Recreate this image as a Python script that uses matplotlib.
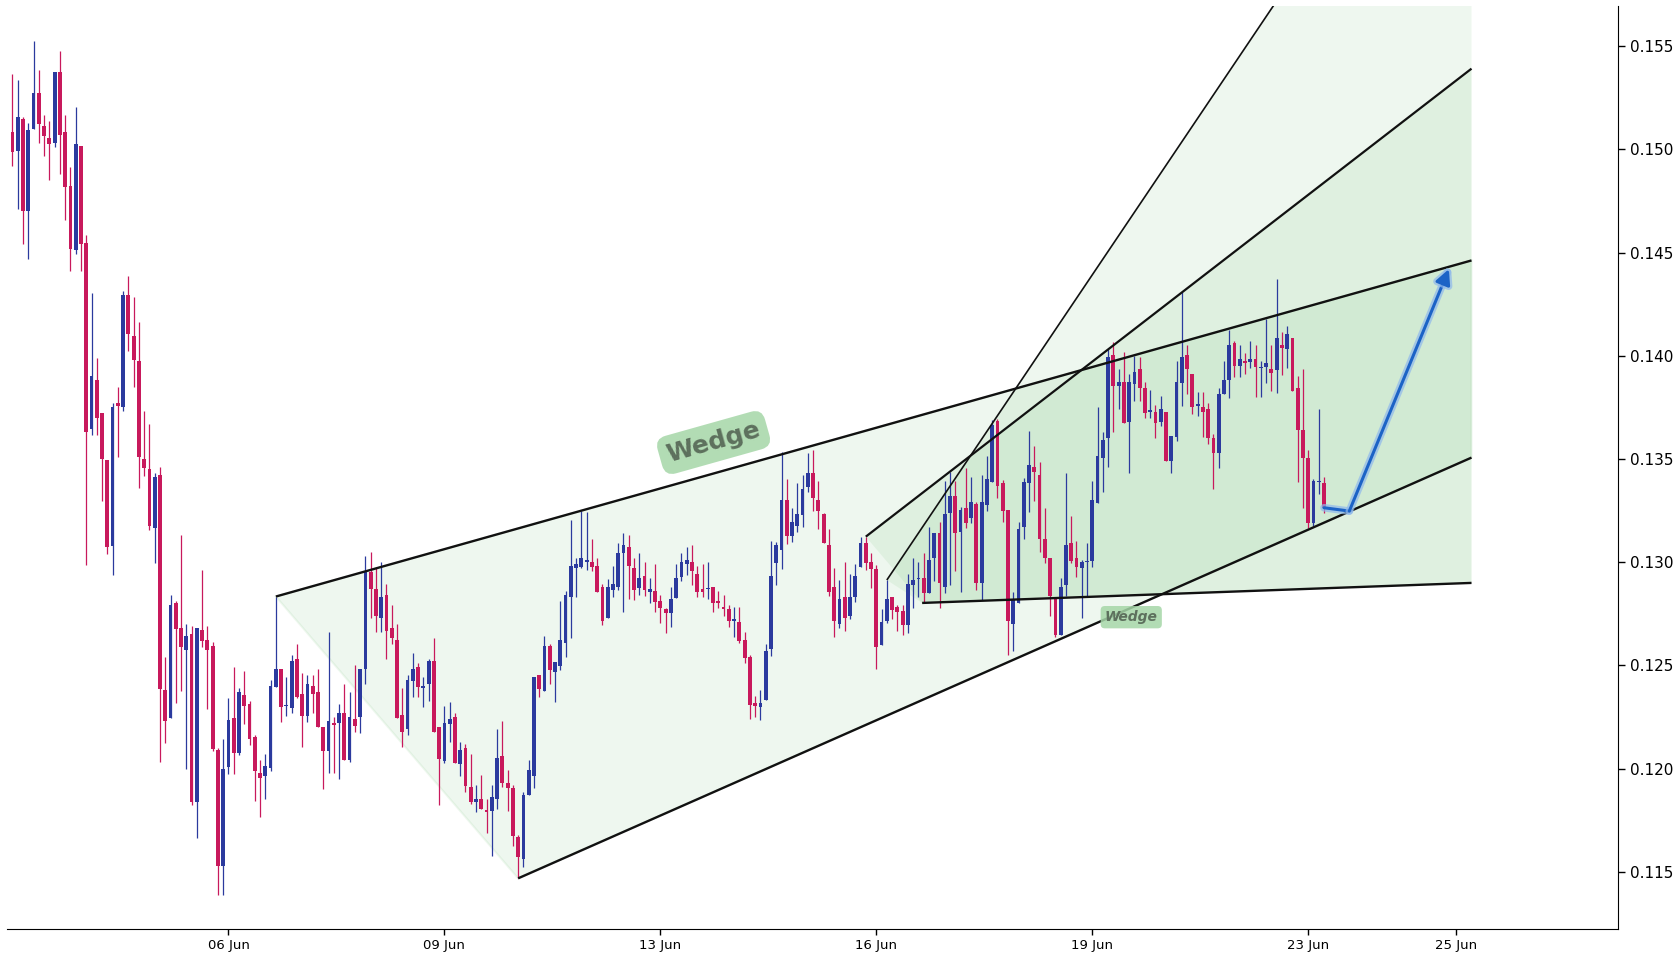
import numpy as np
import matplotlib
matplotlib.use("Agg")
import matplotlib.pyplot as plt
import matplotlib.patheffects as pe

# ---------------- data ----------------
opens = [0.15082, 0.14993, 0.15147, 0.14703, 0.15101, 0.15275, 0.15111, 0.15056, 0.15033, 0.15374,
         0.15082, 0.14822, 0.14511, 0.15016, 0.14545, 0.13644, 0.13883, 0.13724, 0.13495, 0.13078,
         0.13770, 0.13753, 0.14295, 0.14095, 0.13974, 0.13502, 0.13450, 0.13168, 0.13423, 0.12381,
         0.12246, 0.12802, 0.12681, 0.12576, 0.12652, 0.11841, 0.12671, 0.12622, 0.12594, 0.12090,
         0.11527, 0.12007, 0.12248, 0.12076, 0.12359, 0.12314, 0.12153, 0.11981, 0.11967, 0.12002,
         0.12398, 0.12482, 0.12303, 0.12293, 0.12530, 0.12362, 0.12257, 0.12401, 0.12370, 0.12201,
         0.12088, 0.12222, 0.12220, 0.12269, 0.12043, 0.12239, 0.12249, 0.12482, 0.12955, 0.12869,
         0.12729, 0.12840, 0.12680, 0.12624, 0.12261, 0.12191, 0.12427, 0.12493, 0.12390, 0.12409,
         0.12522, 0.12202, 0.12039, 0.12219, 0.12251, 0.12022, 0.12101, 0.11913, 0.11841, 0.11854,
         0.11800, 0.11797, 0.11852, 0.12060, 0.11929, 0.11909, 0.11670, 0.11561, 0.11872, 0.11966,
         0.12454, 0.12378, 0.12594, 0.12470, 0.12499, 0.12610, 0.12830, 0.12970, 0.12978, 0.12999,
         0.12999, 0.12982, 0.12878, 0.12728, 0.12868, 0.12878, 0.13043, 0.13075, 0.12970, 0.12877,
         0.12933, 0.12857, 0.12861, 0.12812, 0.12774, 0.12753, 0.12828, 0.12930, 0.12990, 0.13000,
         0.12941, 0.12869, 0.12869, 0.12878, 0.12811, 0.12785, 0.12772, 0.12717, 0.12712, 0.12623,
         0.12543, 0.12320, 0.12301, 0.12333, 0.12578, 0.12995, 0.13059, 0.13302, 0.13129, 0.13176,
         0.13229, 0.13363, 0.13434, 0.13302, 0.13234, 0.13084, 0.12882, 0.12699, 0.12830, 0.12741,
         0.12830, 0.12979, 0.13092, 0.13003, 0.12966, 0.12599, 0.12717, 0.12830, 0.12781, 0.12764,
         0.12696, 0.12890, 0.12919, 0.12922, 0.12849, 0.13019, 0.13140, 0.12878, 0.13240, 0.13321,
         0.13148, 0.13264, 0.13212, 0.13282, 0.12901, 0.13277, 0.13390, 0.13684, 0.13382, 0.13253,
         0.12701, 0.12801, 0.13169, 0.13382, 0.13460, 0.13423, 0.13111, 0.13019, 0.12825, 0.12648,
         0.12890, 0.13092, 0.13019, 0.12971, 0.13000, 0.13008, 0.13289, 0.13503, 0.13600, 0.14004,
         0.13854, 0.13875, 0.13681, 0.13862, 0.13934, 0.13842, 0.13729, 0.13729, 0.13681, 0.13729,
         0.13492, 0.13608, 0.13870, 0.14004, 0.13910, 0.13759, 0.13754, 0.13742, 0.13600, 0.13531,
         0.13813, 0.13883, 0.14060, 0.13952, 0.13975, 0.13972, 0.13984, 0.13942, 0.13944, 0.13936,
         0.13931, 0.14052, 0.14031, 0.14084, 0.13842, 0.13643, 0.13503, 0.13191, 0.13390, 0.13382]
highs = [0.15365, 0.15336, 0.15158, 0.15128, 0.15526, 0.15384, 0.15166, 0.15137, 0.15374, 0.15478,
         0.15166, 0.14916, 0.15206, 0.15016, 0.14585, 0.14305, 0.13987, 0.13724, 0.13495, 0.13770,
         0.13848, 0.14315, 0.14388, 0.14285, 0.14162, 0.13731, 0.13672, 0.13433, 0.13460, 0.12541,
         0.12841, 0.12812, 0.13132, 0.12701, 0.12691, 0.12681, 0.12962, 0.12691, 0.12614, 0.12100,
         0.12144, 0.12341, 0.12492, 0.12391, 0.12472, 0.12329, 0.12164, 0.12043, 0.12072, 0.12430,
         0.12834, 0.12482, 0.12446, 0.12551, 0.12604, 0.12462, 0.12454, 0.12454, 0.12482, 0.12201,
         0.12661, 0.12249, 0.12314, 0.12409, 0.12370, 0.12503, 0.12482, 0.13031, 0.13052, 0.12979,
         0.13000, 0.12895, 0.12793, 0.12700, 0.12390, 0.12454, 0.12559, 0.12511, 0.12443, 0.12530,
         0.12635, 0.12202, 0.12304, 0.12325, 0.12270, 0.12130, 0.12120, 0.12072, 0.11922, 0.11970,
         0.11854, 0.11922, 0.12193, 0.12231, 0.11993, 0.11921, 0.11679, 0.11888, 0.12042, 0.12442,
         0.12454, 0.12642, 0.12604, 0.12518, 0.12812, 0.12860, 0.13204, 0.13019, 0.13250, 0.13243,
         0.13111, 0.13019, 0.12894, 0.12917, 0.12982, 0.13095, 0.13143, 0.13132, 0.13022, 0.13043,
         0.13000, 0.12925, 0.12990, 0.12841, 0.12780, 0.12882, 0.12991, 0.13046, 0.13072, 0.13083,
         0.12982, 0.12990, 0.13000, 0.12882, 0.12861, 0.12841, 0.12793, 0.12785, 0.12785, 0.12664,
         0.12551, 0.12352, 0.12381, 0.12604, 0.13105, 0.13100, 0.13532, 0.13403, 0.13261, 0.13382,
         0.13423, 0.13528, 0.13544, 0.13395, 0.13240, 0.13161, 0.12971, 0.12914, 0.13003, 0.12943,
         0.12992, 0.13124, 0.13124, 0.13043, 0.12987, 0.12773, 0.12914, 0.12830, 0.12793, 0.12793,
         0.12943, 0.13019, 0.12999, 0.13043, 0.13172, 0.13140, 0.13196, 0.13395, 0.13438, 0.13395,
         0.13269, 0.13459, 0.13411, 0.13293, 0.13422, 0.13514, 0.13689, 0.13692, 0.13398, 0.13253,
         0.12858, 0.13194, 0.13407, 0.13638, 0.13563, 0.13484, 0.13261, 0.13019, 0.12834, 0.12926,
         0.13434, 0.13224, 0.13105, 0.13011, 0.13095, 0.13395, 0.13754, 0.13633, 0.14031, 0.14069,
         0.13935, 0.14020, 0.13912, 0.13999, 0.13993, 0.13875, 0.13834, 0.13762, 0.13805, 0.13729,
         0.13612, 0.13975, 0.14311, 0.14052, 0.13910, 0.13826, 0.13826, 0.13770, 0.13621, 0.13842,
         0.13975, 0.14125, 0.14072, 0.14052, 0.14012, 0.14072, 0.14052, 0.13974, 0.14176, 0.14052,
         0.14372, 0.14115, 0.14144, 0.14084, 0.13902, 0.13936, 0.13543, 0.13403, 0.13742, 0.13411]
lows = [0.14921, 0.14713, 0.14544, 0.14471, 0.15101, 0.15033, 0.14969, 0.14852, 0.15012, 0.14883,
        0.14658, 0.14412, 0.14492, 0.14412, 0.12989, 0.13618, 0.13618, 0.13298, 0.13040, 0.12940,
        0.13511, 0.13731, 0.14021, 0.13850, 0.13361, 0.13419, 0.13158, 0.12998, 0.12031, 0.12126,
        0.12246, 0.12320, 0.12377, 0.11997, 0.11823, 0.11665, 0.12590, 0.12290, 0.12086, 0.11390,
        0.11390, 0.11976, 0.11976, 0.12066, 0.12219, 0.12116, 0.11843, 0.11768, 0.11852, 0.11991,
        0.12398, 0.12228, 0.12256, 0.12269, 0.12341, 0.12107, 0.12228, 0.12269, 0.12201, 0.11900,
        0.11978, 0.11978, 0.11949, 0.12043, 0.12031, 0.12180, 0.12172, 0.12409, 0.12729, 0.12661,
        0.12661, 0.12530, 0.12603, 0.12248, 0.12107, 0.12164, 0.12349, 0.12349, 0.12301, 0.12330,
        0.12180, 0.11825, 0.12030, 0.12127, 0.12030, 0.11965, 0.11889, 0.11828, 0.11788, 0.11807,
        0.11687, 0.11579, 0.11807, 0.11913, 0.11796, 0.11627, 0.11469, 0.11525, 0.11872, 0.11909,
        0.12349, 0.12378, 0.12408, 0.12321, 0.12478, 0.12539, 0.12631, 0.12830, 0.12970, 0.12962,
        0.12959, 0.12857, 0.12696, 0.12728, 0.12830, 0.12865, 0.12760, 0.12820, 0.12817, 0.12841,
        0.12838, 0.12801, 0.12761, 0.12707, 0.12659, 0.12688, 0.12828, 0.12909, 0.12938, 0.12890,
        0.12830, 0.12830, 0.12820, 0.12761, 0.12780, 0.12741, 0.12688, 0.12639, 0.12610, 0.12514,
        0.12239, 0.12252, 0.12236, 0.12333, 0.12546, 0.12890, 0.12967, 0.13088, 0.13100, 0.13148,
        0.13169, 0.13342, 0.13250, 0.13159, 0.13092, 0.12837, 0.12640, 0.12680, 0.12669, 0.12725,
        0.12809, 0.12979, 0.12963, 0.12874, 0.12481, 0.12599, 0.12707, 0.12723, 0.12668, 0.12647,
        0.12659, 0.12777, 0.12833, 0.12809, 0.12849, 0.12910, 0.12777, 0.12849, 0.12890, 0.12959,
        0.12857, 0.13164, 0.13192, 0.12865, 0.12817, 0.13250, 0.13390, 0.13309, 0.13193, 0.12550,
        0.12570, 0.12801, 0.13111, 0.13242, 0.13299, 0.13051, 0.12998, 0.12740, 0.12637, 0.12648,
        0.12837, 0.12998, 0.12930, 0.12729, 0.12837, 0.12979, 0.13289, 0.13342, 0.13460, 0.13633,
        0.13741, 0.13673, 0.13431, 0.13783, 0.13783, 0.13700, 0.13700, 0.13600, 0.13662, 0.13492,
        0.13431, 0.13589, 0.13759, 0.13813, 0.13718, 0.13710, 0.13608, 0.13571, 0.13353, 0.13458,
        0.13813, 0.13794, 0.13899, 0.13899, 0.13912, 0.13943, 0.13802, 0.13802, 0.13869, 0.13831,
        0.13821, 0.13907, 0.13942, 0.13831, 0.13390, 0.13261, 0.13164, 0.13175, 0.13329, 0.13240]
closes = [0.14986, 0.15156, 0.14703, 0.15094, 0.15275, 0.15125, 0.15063, 0.15025, 0.15374, 0.15071,
          0.14819, 0.14519, 0.15025, 0.14544, 0.13632, 0.13904, 0.13701, 0.13502, 0.13073, 0.13753,
          0.13758, 0.14295, 0.14104, 0.13982, 0.13512, 0.13458, 0.13178, 0.13413, 0.12387, 0.12229,
          0.12792, 0.12677, 0.12590, 0.12642, 0.11841, 0.12681, 0.12620, 0.12576, 0.12096, 0.11527,
          0.12001, 0.12238, 0.12076, 0.12371, 0.12302, 0.12144, 0.11990, 0.11957, 0.12014, 0.12401,
          0.12482, 0.12301, 0.12306, 0.12522, 0.12349, 0.12257, 0.12411, 0.12361, 0.12201, 0.12088,
          0.12231, 0.12210, 0.12269, 0.12043, 0.12249, 0.12209, 0.12482, 0.12955, 0.12869, 0.12742,
          0.12830, 0.12669, 0.12632, 0.12248, 0.12180, 0.12430, 0.12483, 0.12398, 0.12401, 0.12522,
          0.12180, 0.12049, 0.12222, 0.12241, 0.12030, 0.12091, 0.11918, 0.11841, 0.11852, 0.11807,
          0.11788, 0.11865, 0.12051, 0.11930, 0.11909, 0.11675, 0.11570, 0.11872, 0.11993, 0.12442,
          0.12386, 0.12594, 0.12478, 0.12518, 0.12623, 0.12841, 0.12982, 0.12991, 0.13019, 0.13011,
          0.12978, 0.12857, 0.12717, 0.12878, 0.12894, 0.13043, 0.13083, 0.12982, 0.12866, 0.12922,
          0.12866, 0.12869, 0.12809, 0.12780, 0.12753, 0.12820, 0.12925, 0.13000, 0.13011, 0.12959,
          0.12857, 0.12857, 0.12874, 0.12801, 0.12801, 0.12772, 0.12717, 0.12723, 0.12619, 0.12538,
          0.12309, 0.12304, 0.12320, 0.12570, 0.12933, 0.13084, 0.13302, 0.13129, 0.13193, 0.13234,
          0.13355, 0.13434, 0.13310, 0.13250, 0.13092, 0.12858, 0.12717, 0.12820, 0.12728, 0.12830,
          0.12933, 0.13095, 0.12998, 0.12967, 0.12591, 0.12709, 0.12820, 0.12768, 0.12760, 0.12696,
          0.12894, 0.12914, 0.12922, 0.12849, 0.13011, 0.13140, 0.12901, 0.13233, 0.13321, 0.13140,
          0.13253, 0.13191, 0.13290, 0.12901, 0.13290, 0.13401, 0.13665, 0.13371, 0.13250, 0.12717,
          0.12817, 0.13161, 0.13391, 0.13471, 0.13439, 0.13111, 0.13019, 0.12837, 0.12648, 0.12882,
          0.13084, 0.13008, 0.12979, 0.13000, 0.13006, 0.13302, 0.13515, 0.13592, 0.13993, 0.13854,
          0.13875, 0.13673, 0.13875, 0.13920, 0.13842, 0.13721, 0.13737, 0.13673, 0.13741, 0.13492,
          0.13612, 0.13872, 0.13993, 0.13934, 0.13750, 0.13767, 0.13729, 0.13600, 0.13531, 0.13813,
          0.13883, 0.14052, 0.13951, 0.13983, 0.13964, 0.13985, 0.13944, 0.13947, 0.13963, 0.13918,
          0.14084, 0.14039, 0.14105, 0.13831, 0.13643, 0.13503, 0.13191, 0.13393, 0.13395, 0.13261]

xtick_pos = [41, 82, 123, 164, 205, 246, 274]
xtick_labels = ['06 Jun', '09 Jun', '13 Jun', '16 Jun', '19 Jun', '23 Jun', '25 Jun']
ytick_vals = [0.115, 0.120, 0.125, 0.130, 0.135, 0.140, 0.145, 0.150, 0.155]

# pattern drawing points (bar index, price)
big_upper = [(50, 0.12834), (277, 0.14462)]
big_lower = [(96, 0.11469), (277, 0.13507)]
steep_line = [(166, 0.12914), (277, 0.17121)]
mid_line = [(162, 0.13124), (277, 0.15391)]
flat_line = [(172.7, 0.12803), (277, 0.12900)]
arrow_pts = [(249.0, 0.13264), (253.8, 0.13248), (272.7, 0.14420)]
big_label = (133.1, 0.13580, 'Wedge')
small_label = (212.4, 0.12734, 'Wedge')

# ---------------- figure ----------------
UP = '#2b3a9e'
DOWN = '#c8195c'

fig = plt.figure(figsize=(16.8, 9.6), dpi=100)
ax = fig.add_axes([0.00446, 0.03229, 0.9586, 0.9610])

o = np.array(opens); h = np.array(highs); l = np.array(lows); c = np.array(closes)
x = np.arange(len(o))
up = c >= o
cols = np.where(up, UP, DOWN)

# fills
fill_col = '#4caf50'
def poly(pts, **kw):
    xs = [p[0] for p in pts]; ys = [p[1] for p in pts]
    ax.fill(xs, ys, **kw)

poly([big_upper[0], big_upper[1], big_lower[1], big_lower[0]], facecolor=fill_col, alpha=0.09,
     edgecolor=fill_col, linewidth=1.5, zorder=1)
poly([steep_line[0], steep_line[1], flat_line[1], flat_line[0]], facecolor=fill_col, alpha=0.09,
     edgecolor='none', zorder=1)
poly([mid_line[0], mid_line[1], flat_line[1], flat_line[0]], facecolor=fill_col, alpha=0.09,
     edgecolor='none', zorder=1)

# candles
ax.vlines(x, l, h, colors=cols, linewidth=0.9, zorder=3)
body = np.maximum(np.abs(c - o), 0.00005)
ax.bar(x, body, bottom=np.minimum(o, c), width=0.72, color=cols, linewidth=0, zorder=4)

# lines
for seg, lw in [(big_upper, 1.7), (big_lower, 1.7), (steep_line, 1.2), (mid_line, 1.6), (flat_line, 1.7)]:
    ax.plot([seg[0][0], seg[1][0]], [seg[0][1], seg[1][1]], color='#111111', lw=lw,
            solid_capstyle='butt', zorder=5)

# arrow
glow = [pe.Stroke(linewidth=5.5, foreground='#8fb8ec', alpha=0.7), pe.Normal()]
ax.plot([arrow_pts[0][0], arrow_pts[1][0]], [arrow_pts[0][1], arrow_pts[1][1]],
        color='#1c63c6', lw=2.2, zorder=6, path_effects=glow, solid_capstyle='round')
ax.annotate('', xy=arrow_pts[2], xytext=arrow_pts[1],
            arrowprops=dict(arrowstyle='-|>,head_length=0.9,head_width=0.45', color='#1c63c6',
                            lw=2.2, shrinkA=0, shrinkB=0, path_effects=glow), zorder=6)

# labels
ax.text(big_label[0], big_label[1], big_label[2], rotation=15.7, rotation_mode='anchor',
        ha='center', va='center', fontsize=18, fontweight='bold', color='#5d705d', zorder=7,
        bbox=dict(boxstyle='round,pad=0.3,rounding_size=0.45', fc='#a5d6a7', ec='none', alpha=0.85))
ax.text(small_label[0], small_label[1], small_label[2], ha='center', va='center', fontsize=10,
        fontweight='bold', style='italic', color='#5d705d', zorder=7,
        bbox=dict(boxstyle='round,pad=0.3,rounding_size=0.3', fc='#a5d6a7', ec='none', alpha=0.85))

# axes
ax.set_xlim(-0.95, 304.8)
ax.set_ylim(0.112236, 0.156923)
ax.spines['top'].set_visible(False)
ax.spines['left'].set_visible(False)
ax.yaxis.tick_right()
ax.set_yticks(ytick_vals)
ax.set_yticklabels([f'{v:.3f}' for v in ytick_vals], fontsize=11)
ax.set_xticks(xtick_pos)
ax.set_xticklabels(xtick_labels, fontsize=9.5)
ax.tick_params(axis='y', length=5, width=1)
ax.tick_params(axis='x', length=4, width=1)
ax.set_facecolor('white')

fig.savefig('out.png', dpi=100, facecolor='white')
